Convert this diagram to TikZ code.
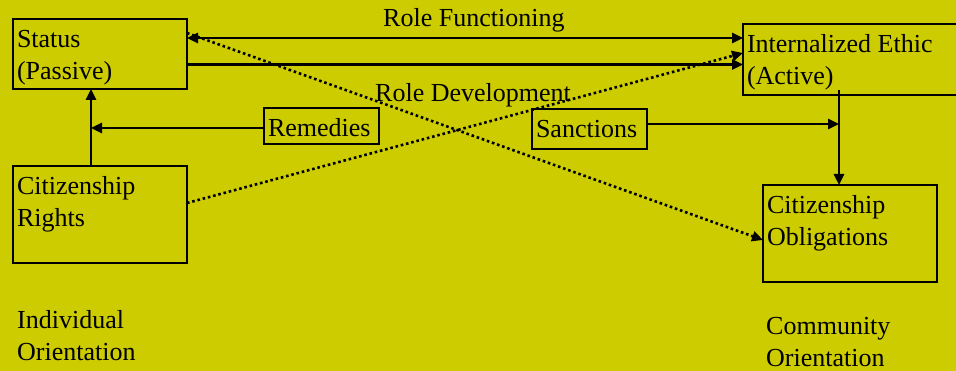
\documentclass[tikz,border=0pt]{standalone}
\usepackage{fontspec}
\setmainfont{Liberation Serif}
\usetikzlibrary{arrows.meta}
\definecolor{slidebg}{RGB}{204,204,0}

\begin{document}
\begin{tikzpicture}[x=1pt, y=-1pt,
  every node/.style={font=\fontsize{26}{32}\selectfont},
  >={Triangle[length=11pt,width=10pt]},
  box/.style={draw, line width=2.8pt, anchor=north west, outer sep=0pt,
    inner xsep=4pt, inner ysep=6.6pt},
  link/.style={line width=2.6pt},
  dots/.style={link, dash pattern=on 2.6pt off 2.8pt},
  tag/.style={inner sep=0pt, anchor=base west}]

\useasboundingbox (0,0) rectangle (956,371);
\clip (0,0) rectangle (956,371);
\fill[slidebg] (0,0) rectangle (956,371);

\node[box] (status) at (13,19) {\parbox[t][56.8pt][t]{166pt}{\strut Status\\(Passive)}};
\node[box] (ethic) at (743,24) {\parbox[t][57.8pt][t]{222pt}{\strut Internalized Ethic\\(Active)}};
\node[box] (rights) at (13,166) {\parbox[t][83.8pt][t]{166pt}{\strut Citizenship\\Rights}};
\node[box] (oblig) at (763,185) {\parbox[t][83.8pt][t]{166pt}{\strut Citizenship\\Obligations}};
\node[box] (remedies) at (264,108) {\parbox[t][22.8pt][t]{107pt}{\strut Remedies}};
\node[box] (sanctions) at (532,109) {\parbox[t][26.8pt][t]{107pt}{\strut Sanctions}};

\node[tag] (rftext) at (383,27) {Role Functioning};
\node[tag] (rdtext) at (375,102) {Role Development};

\node[anchor=north west, inner sep=0pt] (indiv) at (17,305.6)
	{\parbox[t]{200pt}{\strut Individual\\Orientation}};
\node[anchor=north west, inner sep=0pt] (commun) at (766,311.6)
	{\parbox[t]{180pt}{\strut Community\\Orientation}};

% role functioning, both ways
\coordinate (rfl) at ([yshift=16pt]status.east);
\draw[link, <->] (rfl) -- (rfl -| ethic.west);
\coordinate (rfr) at ([yshift=-10.5pt]status.east);
\draw[link, ->] (rfr) -- (rfr -| ethic.west);

% role development
\draw[dots, ->] ([yshift=21pt]status.east) -- ([yshift=-6.5pt]oblig.west);
\draw[dots, ->] ([yshift=11.5pt]rights.east) -- ([yshift=6.5pt]ethic.west);

\coordinate (rise) at ([xshift=-9pt]rights.north);
\draw[link, ->] (rise) -- (rise |- status.south);
\coordinate (rem) at ([yshift=-2pt]remedies.west);
\draw[link, ->] (rem) -- (rem -| rise);

\coordinate (obtop) at ([xshift=-11pt]oblig.north);
\coordinate (drop) at (obtop |- ethic.south);
\draw[link, ->] ([yshift=5pt]drop) -- (obtop);
\coordinate (san) at ([yshift=5pt]sanctions.east);
\draw[link, ->] (san) -- (san -| obtop);

\end{tikzpicture}
\end{document}
